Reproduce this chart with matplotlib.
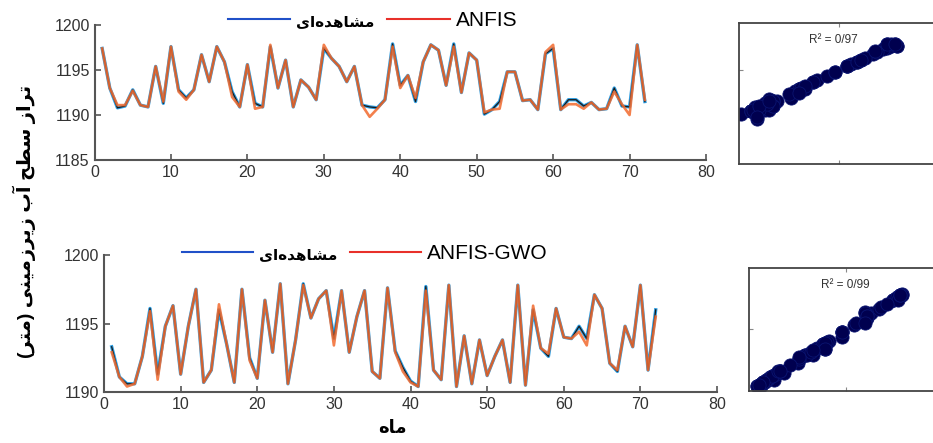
import matplotlib
matplotlib.use('Agg')
import matplotlib.pyplot as plt
import numpy as np

plt.rcParams['font.family'] = ['Liberation Sans', 'DejaVu Sans']

# Persian strings written in visual order with Arabic presentation forms
# (matplotlib does no shaping / bidi)
obs_label = '\uFEEF\uFE8D\uFEE9\uFEAA\uFEEB\uFE8E\uFEB8\uFEE3'        # مشاهده‌ای
ylabel_fa = ('(\uFEAE\uFE98\uFEE3) '
             '\uFEF0\uFEE8\uFEF4\uFEE3\uFEAF\uFEAE\uFEF3\uFEAF '
             '\uFE8F\uFE81 \uFEA2\uFEC4\uFEB3 \uFEAF\uFE8D\uFEAE\uFE97')  # تراز سطح آب زیرزمینی (متر)
xlabel_fa = '\uFEE9\uFE8E\uFEE3'                                    # ماه

months = np.arange(1, 73)

# ---- ANFIS (top) ----
obs_top = [1197.4, 1193.0, 1190.8, 1191.0, 1192.8, 1191.1, 1190.9, 1195.4, 1191.3, 1197.6,
           1192.8, 1191.9, 1192.8, 1196.7, 1193.7, 1197.6, 1195.9, 1192.6, 1190.9, 1195.6,
           1191.3, 1190.9, 1197.6, 1193.0, 1196.1, 1190.9, 1193.9, 1193.1, 1191.7, 1197.4,
           1196.3, 1195.4, 1193.7, 1195.4, 1191.1, 1190.9, 1190.8, 1191.7, 1197.9, 1193.3,
           1194.4, 1191.5, 1195.9, 1197.8, 1197.2, 1193.3, 1197.9, 1192.5, 1196.9, 1196.1,
           1190.1, 1190.6, 1191.5, 1194.8, 1194.8, 1191.6, 1191.7, 1190.6, 1196.8, 1197.4,
           1190.6, 1191.7, 1191.7, 1191.0, 1191.4, 1190.6, 1190.7, 1193.0, 1191.0, 1190.9,
           1197.8, 1191.5]
anfis_top = [1197.4, 1193.0, 1191.1, 1191.1, 1192.7, 1191.1, 1190.9, 1195.4, 1191.5, 1197.6,
             1192.6, 1191.7, 1192.8, 1196.7, 1193.7, 1197.6, 1195.9, 1192.0, 1190.9, 1195.6,
             1190.7, 1190.9, 1197.8, 1193.0, 1196.1, 1190.9, 1193.9, 1193.1, 1191.7, 1197.8,
             1196.3, 1195.4, 1193.7, 1195.4, 1191.1, 1189.8, 1190.7, 1191.7, 1197.6, 1193.0,
             1194.4, 1191.9, 1195.9, 1197.8, 1197.2, 1193.3, 1197.6, 1192.5, 1196.9, 1196.1,
             1190.3, 1190.6, 1190.7, 1194.8, 1194.8, 1191.6, 1191.7, 1190.6, 1197.0, 1197.8,
             1190.6, 1191.2, 1191.2, 1190.7, 1191.4, 1190.6, 1190.7, 1192.6, 1191.2, 1190.0,
             1197.8, 1191.7]

# ---- ANFIS-GWO (bottom) ----
obs_bot = [1193.3, 1191.1, 1190.6, 1190.6, 1192.6, 1196.1, 1191.3, 1194.8, 1196.3, 1191.3,
           1194.8, 1197.5, 1190.7, 1191.6, 1196.0, 1193.5, 1190.7, 1197.5, 1192.5, 1191.0,
           1196.7, 1192.9, 1197.9, 1190.6, 1193.8, 1197.9, 1195.4, 1196.8, 1197.4, 1193.9,
           1197.4, 1192.9, 1195.5, 1197.4, 1191.5, 1191.0, 1197.6, 1193.0, 1191.8, 1190.8,
           1190.4, 1197.7, 1191.6, 1190.9, 1197.8, 1190.4, 1194.1, 1190.6, 1193.8, 1191.2,
           1192.6, 1193.8, 1190.7, 1197.8, 1190.5, 1196.0, 1193.2, 1192.6, 1196.1, 1194.0,
           1193.9, 1194.8, 1193.9, 1197.1, 1196.1, 1192.1, 1191.5, 1194.8, 1193.3, 1197.8,
           1191.6, 1196.0]
gwo_bot = [1192.9, 1191.1, 1190.4, 1190.6, 1192.6, 1195.9, 1190.9, 1194.8, 1196.3, 1191.3,
           1194.8, 1197.5, 1190.7, 1191.6, 1196.4, 1193.5, 1190.7, 1197.5, 1192.3, 1191.0,
           1196.7, 1192.9, 1197.9, 1190.6, 1193.8, 1197.8, 1195.4, 1196.8, 1197.4, 1193.4,
           1197.4, 1192.9, 1195.5, 1197.4, 1191.5, 1191.0, 1197.6, 1192.9, 1191.5, 1190.7,
           1190.4, 1197.4, 1191.6, 1190.9, 1197.8, 1190.4, 1194.1, 1190.6, 1193.8, 1191.2,
           1192.6, 1193.8, 1190.7, 1197.8, 1190.5, 1196.3, 1193.2, 1192.8, 1196.1, 1194.0,
           1193.9, 1194.4, 1193.4, 1197.1, 1196.1, 1192.1, 1191.6, 1194.8, 1193.3, 1197.8,
           1191.6, 1195.5]

r2_labels = ['R\u00b2 = 0/97', 'R\u00b2 = 0/99']
model_names = ['ANFIS', 'ANFIS-GWO']

fig = plt.figure(figsize=(9.33, 4.43), dpi=100)

ax_top = fig.add_axes([0.1013, 0.6388, 0.6554, 0.3047])
ax_bot = fig.add_axes([0.1115, 0.1151, 0.6570, 0.3093])
sc_top = fig.add_axes([0.7920, 0.6298, 0.2144, 0.3180])
sc_bot = fig.add_axes([0.8028, 0.1174, 0.2080, 0.2777])

blue = '#2a9be0'
orange = '#f26a2e'
spine_c = '#555555'


def draw_series(ax, obs, pred, name, ylim, yticks, leg_anchor, hlen):
    ax.plot(months, obs, color=blue, lw=2.4, zorder=2)
    ax.plot(months, obs, color='#1a1a1a', lw=0.9, zorder=3)
    ax.plot(months, pred, color=orange, lw=1.9, alpha=0.85, zorder=4)
    ax.set_xlim(0, 80)
    ax.set_ylim(*ylim)
    ax.set_xticks(range(0, 81, 10))
    ax.set_yticks(yticks)
    ax.tick_params(direction='in', length=4, width=1.2, colors=spine_c,
                   labelcolor='#333333', labelsize=11.5)
    for s in ['top', 'right']:
        ax.spines[s].set_visible(False)
    for s in ['left', 'bottom']:
        ax.spines[s].set_color(spine_c)
        ax.spines[s].set_linewidth(1.5)
    # legend proxies
    h1, = ax.plot([], [], color='#2050c8', lw=1.5)
    h2, = ax.plot([], [], color='#e8302a', lw=1.5)
    leg = ax.legend([h1, h2], [obs_label, name], ncol=2, frameon=False,
                    loc='center', bbox_to_anchor=leg_anchor,
                    prop={'size': 15}, handlelength=hlen, handletextpad=0.3,
                    columnspacing=0.6, borderpad=0)
    t = leg.get_texts()[0]
    t.set_fontsize(11)
    t.set_fontweight('bold')


draw_series(ax_top, obs_top, anfis_top, model_names[0], (1185, 1200),
            [1185, 1190, 1195, 1200], (0.455, 1.03), 3.0)
draw_series(ax_bot, obs_bot, gwo_bot, model_names[1], (1190, 1200),
            [1190, 1195, 1200], (0.425, 1.01), 3.4)


def draw_scatter(ax, obs, pred, ylim, r2, txt_pos):
    ax.plot(obs, pred, 'o', color='#00004f', markersize=9.5,
            markeredgecolor='#0a1470', markeredgewidth=0.6)
    ax.set_xlim(1190, 1200)
    ax.set_ylim(*ylim)
    ax.set_xticks([1195])
    ax.set_yticks([1195])
    ax.tick_params(direction='in', length=3, width=0.8, colors='#888888',
                   labelbottom=False, labelleft=False, top=True, right=True)
    for s in ax.spines.values():
        s.set_color('#444444')
        s.set_linewidth(1.3)
    ax.text(txt_pos[0], txt_pos[1], r2, transform=ax.transAxes, ha='center',
            va='center', fontsize=8.5, color='#333333')


draw_scatter(sc_top, obs_top, anfis_top, (1185, 1200), r2_labels[0], (0.47, 0.88))
draw_scatter(sc_bot, obs_bot, gwo_bot, (1190, 1200), r2_labels[1], (0.495, 0.86))

fig.text(0.026, 0.5, ylabel_fa, rotation=90, ha='center', va='center',
         fontsize=14, fontweight='bold')
fig.text(0.421, 0.032, xlabel_fa, ha='center', va='center',
         fontsize=13, fontweight='bold')

fig.savefig('out.png', dpi=100)
